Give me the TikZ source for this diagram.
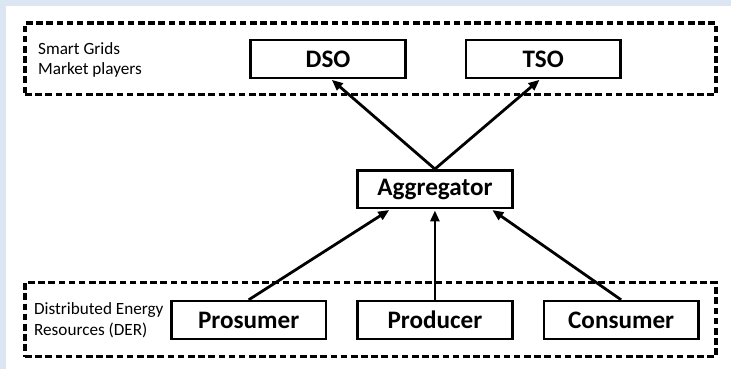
\documentclass[tikz,border=0pt]{standalone}
\usepackage{fontspec}
\setmainfont{Carlito}
\usetikzlibrary{arrows.meta,calc}
\definecolor{bgblue}{HTML}{DCE6F2}
\begin{document}
\begin{tikzpicture}[x=1pt,y=-1pt,
 box/.style={draw,line width=2.5pt,minimum width=155pt,minimum height=38pt,inner sep=0pt,font=\fontsize{25.2}{29}\selectfont\bfseries},
 grp/.style={draw,line width=3.2pt,dash pattern=on 6.6pt off 3.6pt,inner sep=0pt},
 lbl/.style={align=left,anchor=west,font=\fontsize{17.2}{21}\selectfont,inner sep=0pt},
 arr/.style={line width=2.8pt,-{Triangle[length=11pt,width=9pt]},shorten >=1pt}]
\fill[bgblue] (0,0) rectangle (732,370);
\fill[white] (6,6) rectangle (733,371);
\useasboundingbox (0,0) rectangle (732,370);
\node[grp,minimum width=692pt,minimum height=72pt] (topgrp) at (371,59) {};
\node[grp,minimum width=692pt,minimum height=74pt] (botgrp) at (371,320) {};
\node[lbl] (sg) at (38,60) {Smart Grids\\Market players};
\node[lbl] (der) at (34,321) {Distributed Energy\\Resources (DER)};
\node[box] (dso) at (328.5,59) {DSO};
\node[box] (tso) at (544,59) {TSO};
\node[box] (agg) at (435.5,189.5) {Aggregator};
\node[box] (pro) at (249,320.5) {Prosumer};
\node[box] (prd) at (435.5,320.5) {Producer};
\node[box] (con) at (622,320.5) {Consumer};
\draw[arr] (agg.north) -- ($(dso.south)+(3,0)$);
\draw[arr] (agg.north) -- ($(tso.south)+(-3,0)$);
\draw[arr] (pro.north) -- ($(agg.south west)!0.215!(agg.south east)$);
\draw[arr] (prd.north) -- (agg.south);
\draw[arr] (con.north) -- ($(agg.south west)!0.86!(agg.south east)$);
\end{tikzpicture}
\end{document}
